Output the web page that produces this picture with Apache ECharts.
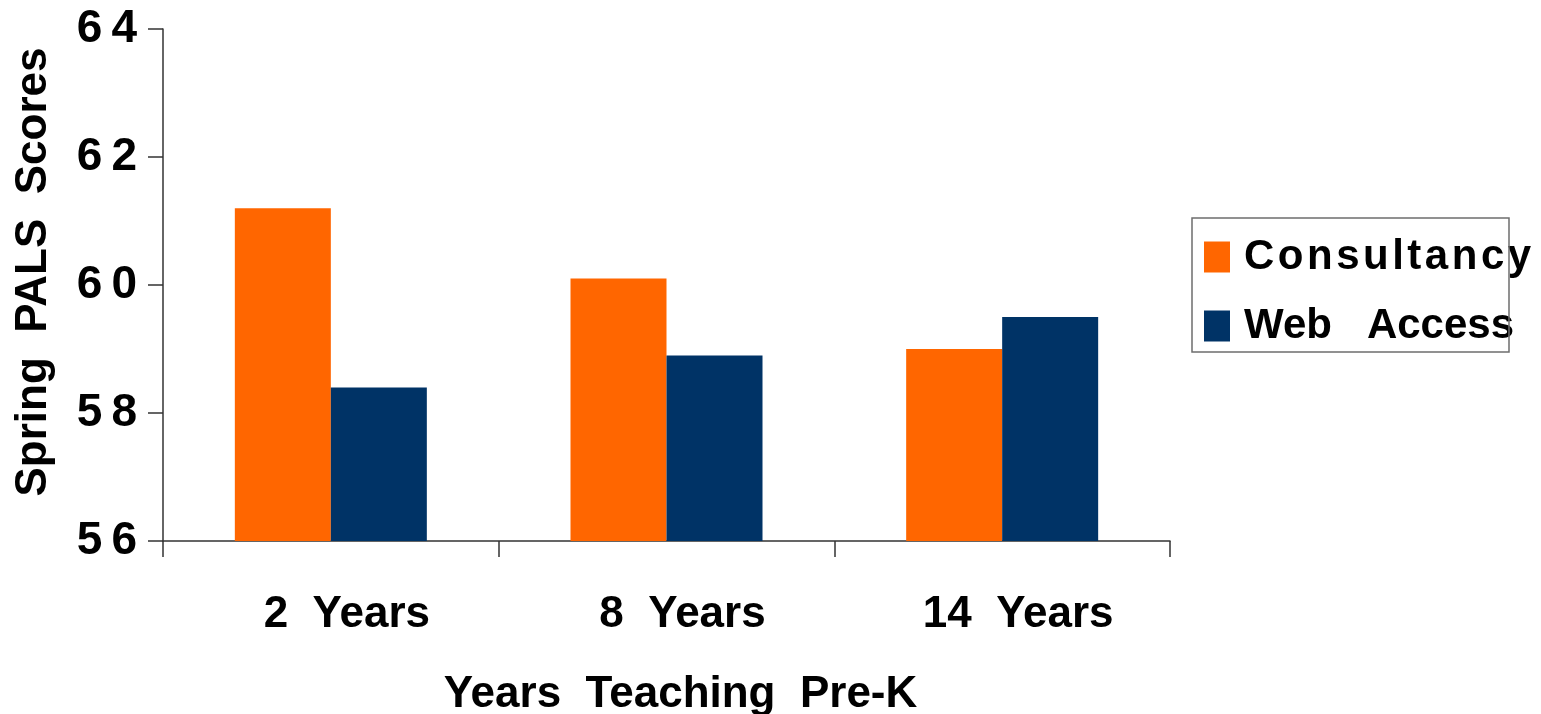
<!DOCTYPE html>
<html>
<head>
<meta charset="utf-8">
<script src="https://cdn.jsdelivr.net/npm/echarts@6/dist/echarts.min.js"></script>
<style>
html,body{margin:0;padding:0;background:#fff;}
#chart{width:1541px;height:714px;}
</style>
</head>
<body>
<div id="chart"></div>
<script>
const categories = ['2  Years', '8  Years', '14  Years'];
const consultancy = [61.2, 60.1, 59.0];
const webAccess = [58.4, 58.9, 59.5];
const seriesNames = ['Consultancy', 'Web   Access'];
const yTicks = { min: 56, max: 64, interval: 2 };

const FONT = '"Liberation Sans", Arial, sans-serif';
const chart = echarts.init(document.getElementById('chart'));
const spaced = s => s.split('').join('\u200A');

chart.setOption({
  animation: false,
  backgroundColor: '#ffffff',
  textStyle: { fontFamily: FONT },
  grid: { left: 163, right: 371, top: 29, bottom: 173, containLabel: false, outerBoundsMode: 'none' },
  legend: {
    orient: 'vertical',
    left: 1204,
    top: 236,
    itemWidth: 26,
    itemHeight: 31,
    itemGap: 27,
    itemStyle: { borderWidth: 0 },
    icon: 'rect',
    padding: 0,
    textStyle: { fontFamily: FONT, fontWeight: 'bold', fontSize: 42, color: '#000', lineHeight: 38, padding: [0, 0, 0, 9] },
    formatter: n => n === 'Consultancy' ? spaced(n) : n,
    data: seriesNames
  },
  graphic: [{
    type: 'rect',
    shape: { x: 1192, y: 218, width: 317, height: 134 },
    style: { fill: 'none', stroke: '#6e6e6e', lineWidth: 1.5 },
    z: 100
  }],
  xAxis: {
    type: 'category',
    data: categories,
    boundaryGap: true,
    axisLine: { lineStyle: { color: '#333', width: 1.5 } },
    axisTick: { show: true, length: 16, lineStyle: { color: '#333', width: 1.5 } },
    axisLabel: {
      fontFamily: FONT, fontWeight: 'bold', fontSize: 44, color: '#000',
      margin: 52, padding: [0, 0, 0, 32]
    },
    name: 'Years  Teaching  Pre-K',
    nameLocation: 'middle',
    nameGap: 132,
    nameTextStyle: { fontFamily: FONT, fontWeight: 'bold', fontSize: 44, color: '#000', padding: [0, 0, 0, 28] }
  },
  yAxis: {
    type: 'value',
    min: yTicks.min,
    max: yTicks.max,
    interval: yTicks.interval,
    splitLine: { show: false },
    axisLine: { show: true, lineStyle: { color: '#333', width: 1.5 } },
    axisTick: { show: true, length: 15, lineStyle: { color: '#333', width: 1.5 } },
    axisLabel: {
      fontFamily: FONT, fontWeight: 'bold', fontSize: 46, color: '#000', margin: 26,
      formatter: v => String(v).split('').join('\u2009')
    },
    name: 'Spring  PALS  Scores',
    nameLocation: 'middle',
    nameRotate: 90,
    nameGap: 107,
    nameTextStyle: { fontFamily: FONT, fontWeight: 'bold', fontSize: 44, color: '#000', padding: [0, 0, 0, 26] }
  },
  series: [
    {
      name: seriesNames[0], type: 'bar', data: consultancy,
      barWidth: 96, barGap: '0%',
      itemStyle: { color: '#FF6600' }
    },
    {
      name: seriesNames[1], type: 'bar', data: webAccess,
      barWidth: 96, barGap: '0%',
      itemStyle: { color: '#003366' }
    }
  ]
});
</script>
</body>
</html>
